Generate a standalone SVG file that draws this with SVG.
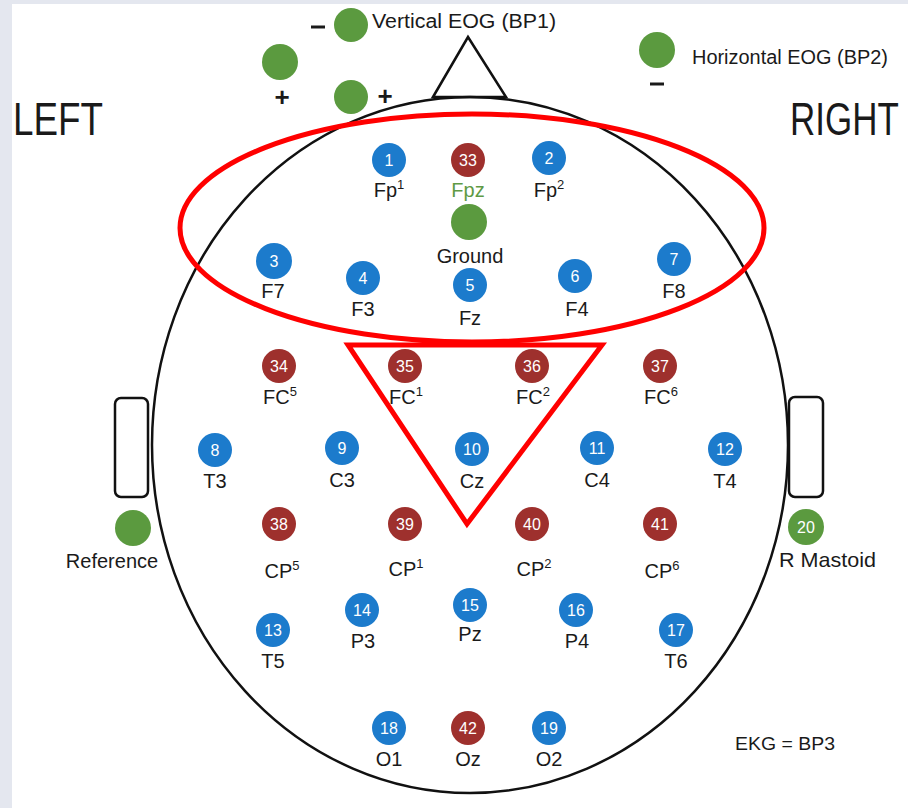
<svg xmlns="http://www.w3.org/2000/svg" width="908" height="808" viewBox="0 0 908 808">
  <defs>
    <style>
      text { font-family: "Liberation Sans", "DejaVu Sans", sans-serif; fill: #1a1a1a; }
      .lbl { font-size: 20px; text-anchor: middle; }
      .sup { font-size: 13px; }
      .num { font-size: 16px; text-anchor: middle; fill: #ffffff; }
      .big { font-size: 46px; }
      .sign { font-size: 26px; font-weight: bold; text-anchor: middle; }
      .blue { fill: #1c7bcc; }
      .red { fill: #9e302d; }
      .green { fill: #5b9a3f; }
      .outline { fill: none; stroke: #111111; stroke-width: 2.5; }
      .mark { fill: none; stroke: #ff0000; stroke-width: 5; }
    </style>
  </defs>

  <!-- page background with thin frame -->
  <rect x="0" y="0" width="908" height="808" fill="#e4e7ef"/>
  <rect x="12" y="4" width="896" height="804" fill="#ffffff"/>

  <!-- head outline, nose and ears -->
  <g id="head">
    <ellipse class="outline" cx="470" cy="445" rx="318" ry="348"/>
    <polygon class="outline" points="433,97 468,37 506,97" fill="#ffffff"/>
    <rect class="outline" x="115" y="398" width="33" height="99" rx="6" fill="#ffffff"/>
    <rect class="outline" x="789" y="397" width="34" height="100" rx="6" fill="#ffffff"/>
  </g>

  <!-- side captions, horizontally condensed -->
  <text class="big" transform="translate(13,135) scale(0.8,1)">LEFT</text>
  <text class="big" transform="translate(790,135) scale(0.76,1)">RIGHT</text>

  <!-- EOG electrodes -->
  <g id="veog">
    <circle class="green" cx="351" cy="25" r="17"/>
    <circle class="green" cx="280" cy="62" r="18"/>
    <circle class="green" cx="351" cy="97" r="17"/>
    <line x1="311" y1="27" x2="325" y2="27" stroke="#1a1a1a" stroke-width="3"/>
    <text class="sign" x="282" y="106">+</text>
    <text class="sign" x="385" y="105">+</text>
    <text x="372" y="28" font-size="20" textLength="184" lengthAdjust="spacingAndGlyphs">Vertical EOG (BP1)</text>
  </g>
  <g id="heog">
    <circle class="green" cx="657" cy="50" r="18"/>
    <line x1="650" y1="84" x2="664" y2="84" stroke="#1a1a1a" stroke-width="3"/>
    <text x="692" y="64" font-size="20" textLength="196" lengthAdjust="spacingAndGlyphs">Horizontal EOG (BP2)</text>
  </g>

  <!-- ground, reference, mastoid -->
  <g id="ground">
    <circle class="green" cx="469" cy="222" r="18"/>
    <text class="lbl" x="470" y="263" font-size="21">Ground</text>
  </g>
  <g id="reference">
    <circle class="green" cx="133" cy="528" r="18"/>
    <text class="lbl" x="112" y="568" font-size="21">Reference</text>
  </g>
  <g id="e20">
    <circle class="green" cx="806" cy="527" r="18"/>
    <text class="num" x="806" y="533">20</text>
    <text x="779" y="567" font-size="21" textLength="97" lengthAdjust="spacingAndGlyphs">R Mastoid</text>
  </g>

  <!-- scalp electrodes -->
  <g id="e1"><circle class="blue" cx="389" cy="160" r="17"/><text class="num" x="389" y="166">1</text><text class="lbl" x="389" y="197">Fp<tspan class="sup" dy="-8">1</tspan></text></g>
  <g id="e33"><circle class="red" cx="468" cy="160" r="17"/><text class="num" x="468" y="166">33</text><text class="lbl" x="468" y="197" style="fill:#5f9a45">Fpz</text></g>
  <g id="e2"><circle class="blue" cx="549" cy="158" r="17"/><text class="num" x="549" y="164">2</text><text class="lbl" x="549" y="197">Fp<tspan class="sup" dy="-8">2</tspan></text></g>

  <g id="e3"><circle class="blue" cx="274" cy="261" r="18"/><text class="num" x="274" y="267">3</text><text class="lbl" x="273" y="298">F7</text></g>
  <g id="e4"><circle class="blue" cx="363" cy="278" r="17"/><text class="num" x="363" y="284">4</text><text class="lbl" x="363" y="316">F3</text></g>
  <g id="e5"><circle class="blue" cx="470" cy="285" r="17"/><text class="num" x="470" y="291">5</text><text class="lbl" x="470" y="325">Fz</text></g>
  <g id="e6"><circle class="blue" cx="575" cy="276" r="17"/><text class="num" x="575" y="282">6</text><text class="lbl" x="577" y="316">F4</text></g>
  <g id="e7"><circle class="blue" cx="674" cy="259" r="17"/><text class="num" x="674" y="265">7</text><text class="lbl" x="674" y="298">F8</text></g>

  <g id="e34"><circle class="red" cx="279" cy="366" r="17"/><text class="num" x="279" y="372">34</text><text class="lbl" x="280" y="404">FC<tspan class="sup" dy="-8">5</tspan></text></g>
  <g id="e35"><circle class="red" cx="405" cy="366" r="17"/><text class="num" x="405" y="372">35</text><text class="lbl" x="406" y="404">FC<tspan class="sup" dy="-8">1</tspan></text></g>
  <g id="e36"><circle class="red" cx="532" cy="366" r="17"/><text class="num" x="532" y="372">36</text><text class="lbl" x="533" y="404">FC<tspan class="sup" dy="-8">2</tspan></text></g>
  <g id="e37"><circle class="red" cx="660" cy="366" r="17"/><text class="num" x="660" y="372">37</text><text class="lbl" x="661" y="404">FC<tspan class="sup" dy="-8">6</tspan></text></g>

  <g id="e8"><circle class="blue" cx="215" cy="450" r="17"/><text class="num" x="215" y="456">8</text><text class="lbl" x="215" y="488">T3</text></g>
  <g id="e9"><circle class="blue" cx="342" cy="448" r="17"/><text class="num" x="342" y="454">9</text><text class="lbl" x="342" y="487">C3</text></g>
  <g id="e10"><circle class="blue" cx="472" cy="449" r="17"/><text class="num" x="472" y="455">10</text><text class="lbl" x="472" y="488">Cz</text></g>
  <g id="e11"><circle class="blue" cx="597" cy="448" r="17"/><text class="num" x="597" y="454">11</text><text class="lbl" x="597" y="487">C4</text></g>
  <g id="e12"><circle class="blue" cx="725" cy="449" r="17"/><text class="num" x="725" y="455">12</text><text class="lbl" x="725" y="488">T4</text></g>

  <g id="e38"><circle class="red" cx="279" cy="524" r="17"/><text class="num" x="279" y="530">38</text><text class="lbl" x="282" y="578">CP<tspan class="sup" dy="-8">5</tspan></text></g>
  <g id="e39"><circle class="red" cx="405" cy="524" r="17"/><text class="num" x="405" y="530">39</text><text class="lbl" x="406" y="576">CP<tspan class="sup" dy="-8">1</tspan></text></g>
  <g id="e40"><circle class="red" cx="532" cy="524" r="17"/><text class="num" x="532" y="530">40</text><text class="lbl" x="534" y="576">CP<tspan class="sup" dy="-8">2</tspan></text></g>
  <g id="e41"><circle class="red" cx="660" cy="524" r="17"/><text class="num" x="660" y="530">41</text><text class="lbl" x="662" y="578">CP<tspan class="sup" dy="-8">6</tspan></text></g>

  <g id="e14"><circle class="blue" cx="362" cy="610" r="17"/><text class="num" x="362" y="616">14</text><text class="lbl" x="363" y="648">P3</text></g>
  <g id="e15"><circle class="blue" cx="470" cy="605" r="17"/><text class="num" x="470" y="611">15</text><text class="lbl" x="470" y="641">Pz</text></g>
  <g id="e16"><circle class="blue" cx="576" cy="610" r="17"/><text class="num" x="576" y="616">16</text><text class="lbl" x="577" y="648">P4</text></g>
  <g id="e13"><circle class="blue" cx="273" cy="630" r="17"/><text class="num" x="273" y="636">13</text><text class="lbl" x="273" y="668">T5</text></g>
  <g id="e17"><circle class="blue" cx="676" cy="630" r="17"/><text class="num" x="676" y="636">17</text><text class="lbl" x="676" y="668">T6</text></g>

  <g id="e18"><circle class="blue" cx="389" cy="728" r="17"/><text class="num" x="389" y="734">18</text><text class="lbl" x="389" y="766">O1</text></g>
  <g id="e42"><circle class="red" cx="468" cy="728" r="17"/><text class="num" x="468" y="734">42</text><text class="lbl" x="468" y="766">Oz</text></g>
  <g id="e19"><circle class="blue" cx="549" cy="728" r="17"/><text class="num" x="549" y="734">19</text><text class="lbl" x="549" y="766">O2</text></g>

  <text x="735" y="750" font-size="19" textLength="100" lengthAdjust="spacingAndGlyphs">EKG = BP3</text>

  <!-- red highlight regions -->
  <g id="connectors">
    <ellipse class="mark" cx="472" cy="228" rx="292" ry="114"/>
    <polygon class="mark" points="348,345 602,345 467,524"/>
  </g>
</svg>
